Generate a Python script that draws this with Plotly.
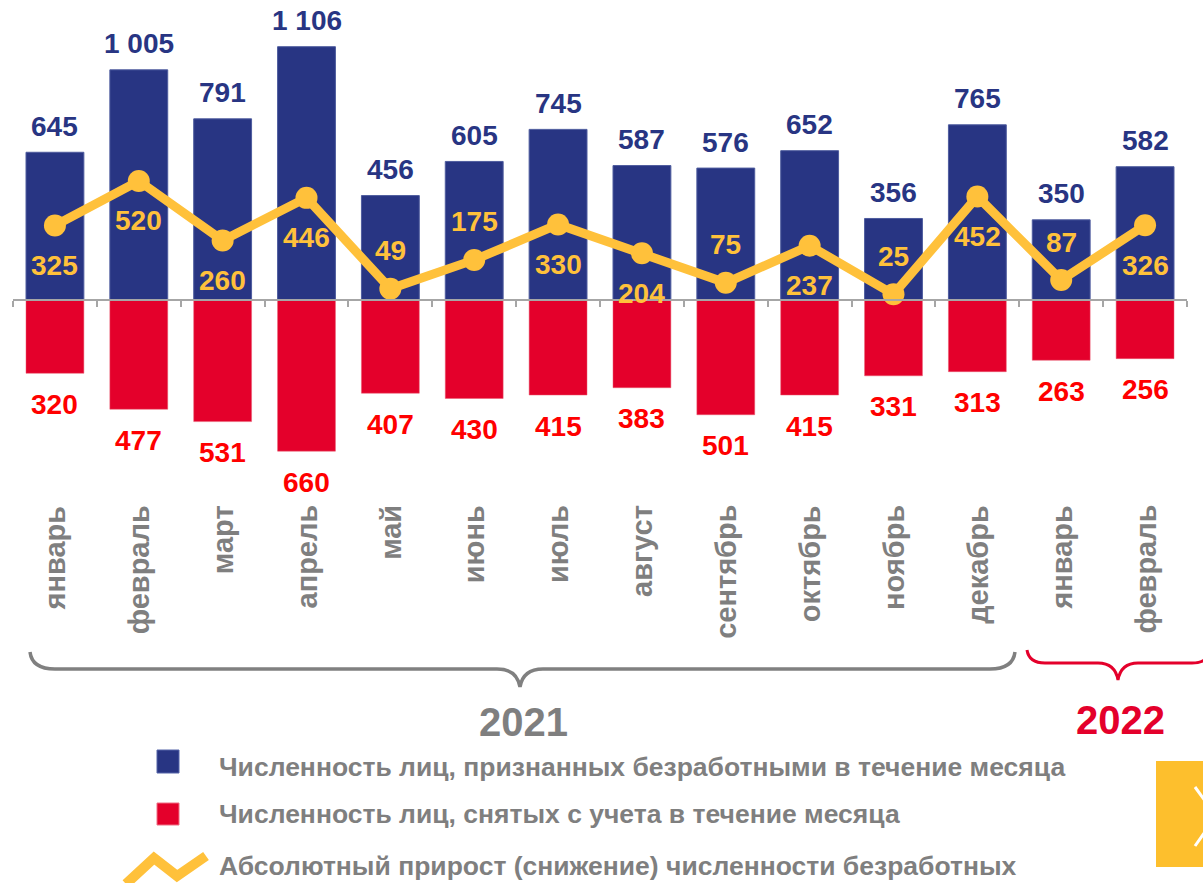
import plotly.graph_objects as go

# ---------------- data ----------------
months = ["январь", "февраль", "март", "апрель", "май", "июнь", "июль",
          "август", "сентябрь", "октябрь", "ноябрь", "декабрь", "январь", "февраль"]
registered = [645, 1005, 791, 1106, 456, 605, 745, 587, 576, 652, 356, 765, 350, 582]
removed = [320, 477, 531, 660, 407, 430, 415, 383, 501, 415, 331, 313, 263, 256]
growth = [325, 520, 260, 446, 49, 175, 330, 204, 75, 237, 25, 452, 87, 326]
years = ["2021", "2022"]
legend_labels = [
    "Численность лиц, признанных безработными в течение месяца",
    "Численность лиц, снятых с учета в течение месяца",
    "Абсолютный прирост (снижение) численности безработных",
]

# label placement for the growth line (style, not data)
growth_side = ["below", "below", "below", "below", "above", "above", "below",
               "below", "above", "below", "above", "below", "above", "below"]

# ---------------- styling ----------------
W, H = 1203, 883
BLUE = "#283583"
RED = "#E4002B"
RED_TXT = "#FF0000"
YEL = "#FFC13B"
GRAY = "#7F7F7F"
FONT = "Arial, 'Liberation Sans', sans-serif"

PLOT_TOP, PLOT_BOTTOM, ZERO = 14, 460, 300
SCALE = 253.3 / 1106  # px per unit
YMAX = (ZERO - PLOT_TOP) / SCALE
YMIN = -(PLOT_BOTTOM - ZERO) / SCALE


def fx(x):
    return x / W


def fy(y):
    return 1 - y / H


def fmt(v):
    return f"{v:,}".replace(",", " ")


idx = list(range(len(months)))

fig = go.Figure()
fig.add_trace(go.Bar(x=idx, y=registered, marker=dict(color=BLUE, line=dict(color="#4E5C9E", width=1)),
                     name=legend_labels[0], showlegend=False, hoverinfo="skip"))
fig.add_trace(go.Bar(x=idx, y=[-v for v in removed], marker=dict(color=RED, line=dict(color="#E85A70", width=0.5)),
                     name=legend_labels[1], showlegend=False, hoverinfo="skip"))
fig.add_trace(go.Scatter(x=idx, y=growth, mode="lines+markers",
                         line=dict(color=YEL, width=9), marker=dict(color=YEL, size=22),
                         name=legend_labels[2], showlegend=False, hoverinfo="skip"))

ann = []
for i in idx:
    ann.append(dict(x=i, y=registered[i], xref="x", yref="y", text=f"<b>{fmt(registered[i])}</b>",
                    showarrow=False, yanchor="middle", yshift=26,
                    font=dict(family=FONT, size=28, color=BLUE)))
    ann.append(dict(x=i, y=-removed[i], xref="x", yref="y", text=f"<b>{fmt(removed[i])}</b>",
                    showarrow=False, yanchor="middle", yshift=-31,
                    font=dict(family=FONT, size=28, color=RED_TXT)))
    ann.append(dict(x=i, y=growth[i], xref="x", yref="y", text=f"<b>{fmt(growth[i])}</b>",
                    showarrow=False, yanchor="middle",
                    yshift=-40 if growth_side[i] == "below" else 38,
                    font=dict(family=FONT, size=28, color=YEL)))
    ann.append(dict(x=i, y=fy(503), xref="x", yref="paper", text=f"<b>{months[i]}</b>",
                    showarrow=False, textangle=-90, yanchor="top", xanchor="center",
                    font=dict(family=FONT, size=29, color=GRAY)))

# year labels
ann.append(dict(x=fx(523), y=fy(722), xref="paper", yref="paper", text=f"<b>{years[0]}</b>",
                showarrow=False, xanchor="center", yanchor="middle",
                font=dict(family=FONT, size=40, color=GRAY)))
ann.append(dict(x=fx(1120), y=fy(720), xref="paper", yref="paper", text=f"<b>{years[1]}</b>",
                showarrow=False, xanchor="center", yanchor="middle",
                font=dict(family=FONT, size=40, color=RED)))

# legend texts
for lbl, yc in zip(legend_labels, [767, 814, 866]):
    ann.append(dict(x=fx(217), y=fy(yc), xref="paper", yref="paper", text=f"<b>{lbl}</b>",
                    showarrow=False, xanchor="left", yanchor="middle",
                    font=dict(family=FONT, size=26.5, color=GRAY)))


def path(pts):
    out = []
    for p in pts:
        if isinstance(p, str):
            out.append(p)
        else:
            out.append(f"{fx(p[0]):.5f},{fy(p[1]):.5f}")
    return " ".join(out)


shapes = []
# gray brace 2021
shapes.append(dict(type="path", xref="paper", yref="paper",
                   path=path(["M", (30, 652), "Q", (32, 669), (55, 669), "L", (497, 669),
                              "Q", (517, 669), (520, 687), "Q", (523, 669), (543, 669),
                              "L", (990, 669), "Q", (1013, 669), (1015, 652)]),
                   line=dict(color="#808080", width=3.5)))
# red brace 2022
shapes.append(dict(type="path", xref="paper", yref="paper",
                   path=path(["M", (1027, 650), "Q", (1029, 663), (1045, 663), "L", (1098, 663),
                              "Q", (1115, 663), (1118, 680), "Q", (1121, 663), (1138, 663),
                              "L", (1192, 663), "Q", (1208, 663), (1210, 650)]),
                   line=dict(color=RED, width=3)))
# legend markers
shapes.append(dict(type="rect", xref="paper", yref="paper", x0=fx(157), x1=fx(179), y0=fy(750), y1=fy(773),
                   fillcolor=BLUE, line=dict(color="#5565A8", width=1)))
shapes.append(dict(type="rect", xref="paper", yref="paper", x0=fx(157), x1=fx(179), y0=fy(803), y1=fy(825),
                   fillcolor=RED, line=dict(color="#EE6F84", width=1)))
shapes.append(dict(type="path", xref="paper", yref="paper",
                   path=path(["M", (126, 884), "L", (154, 858), "L", (177, 876), "L", (206, 856)]),
                   line=dict(color=YEL, width=10)))
# yellow navigation box
shapes.append(dict(type="rect", xref="paper", yref="paper", x0=fx(1156), x1=fx(1215), y0=fy(867), y1=fy(761),
                   fillcolor="#FDBF2D", line=dict(width=0)))
shapes.append(dict(type="path", xref="paper", yref="paper",
                   path=path(["M", (1195, 787), "L", (1216, 816), "L", (1195, 846)]),
                   line=dict(color="white", width=3)))

fig.update_layout(
    width=W, height=H,
    margin=dict(l=0, r=0, t=0, b=0),
    paper_bgcolor="white", plot_bgcolor="rgba(0,0,0,0)",
    barmode="relative", bargap=0.31,
    showlegend=False,
    xaxis=dict(domain=[fx(13), fx(1187)], range=[-0.5, len(months) - 0.5],
               anchor="free", position=fy(ZERO),
               showline=True, linecolor="#A6A6A6", linewidth=1.5,
               ticks="outside", ticklen=6, tickcolor="#A6A6A6", tickwidth=1.5,
               tickvals=[i - 0.5 for i in range(len(months) + 1)],
               showticklabels=False, showgrid=False, zeroline=False),
    yaxis=dict(domain=[fy(PLOT_BOTTOM), fy(PLOT_TOP)], range=[YMIN, YMAX],
               visible=False, showgrid=False, zeroline=False),
    annotations=ann,
    shapes=shapes,
)

fig.write_html("out.html", config={"displayModeBar": False},
               post_script="document.body.style.margin='0';document.body.style.overflow='hidden';")
